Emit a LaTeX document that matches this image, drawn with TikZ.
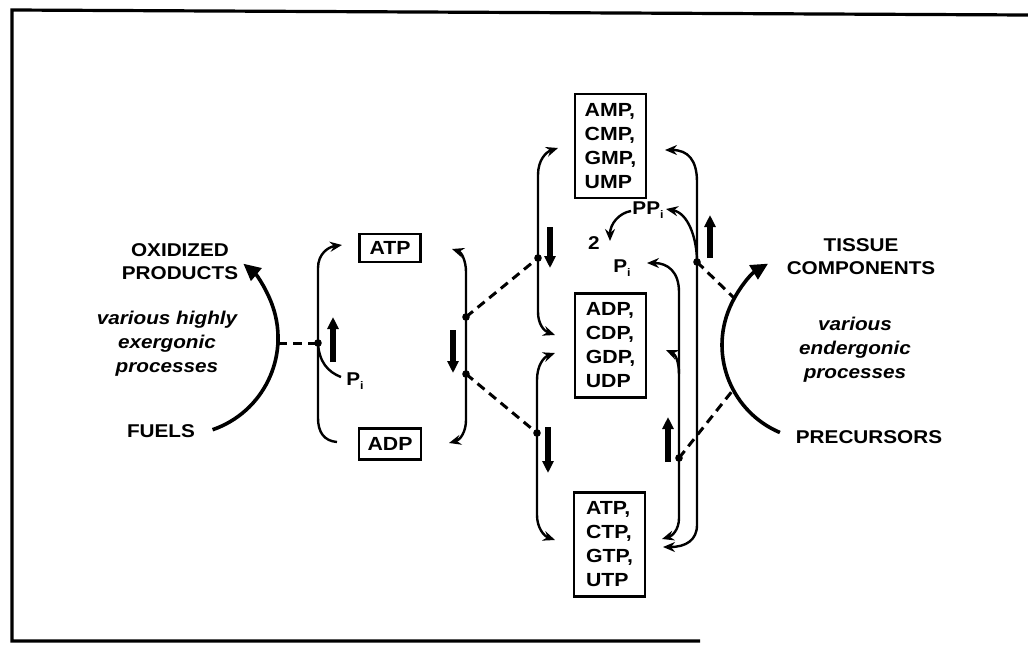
\documentclass[tikz,border=0pt]{standalone}
\usepackage{fontspec}
\setmainfont{Liberation Sans}[FakeStretch=1.12]
\usetikzlibrary{arrows.meta}
\newcommand{\sbi}{\raisebox{-4pt}{\fontsize{11}{11}\selectfont i}}
\begin{document}
\begin{tikzpicture}[x=1pt,y=-1pt,
  lbl/.style={font=\fontsize{18.5}{23}\selectfont\bfseries, align=center, inner sep=0pt},
  itl/.style={font=\fontsize{18.5}{24}\selectfont\bfseries\itshape, align=center, inner sep=0pt},
  box/.style={draw, line width=2.8pt, font=\fontsize{19}{24}\selectfont\bfseries, inner sep=2pt},
  bigbox/.style={box, align=left, minimum width=71pt, minimum height=104pt},
  link/.style={line width=2.4pt},
  dsh/.style={line width=3pt, dash pattern=on 9pt off 6pt},
  thin tip/.tip={Stealth[length=12pt,width=10pt,inset=4pt]},
  bigarc/.style={line width=3.6pt, -{Triangle[length=17pt,width=16pt]}},
  boldarr/.style={line width=6pt, -{Triangle[length=12pt,width=11pt]}}]
\useasboundingbox (0,0) rectangle (1028,646);
% frame
\draw[line width=3.2pt] (1028,15) -- (12,10) -- (12,641) -- (700,641);

% text nodes
\node[lbl] (oxi) at (180,262) {OXIDIZED\\PRODUCTS};
\node[itl] (exer) at (167,344) {various highly\\exergonic\\processes};
\node[lbl] (fuels) at (161,431) {FUELS};
\node[lbl] (tissue) at (861,257) {TISSUE\\COMPONENTS};
\node[itl] (ender) at (855,350) {various\\endergonic\\processes};
\node[lbl] (prec) at (869,437) {PRECURSORS};

% boxes
\node[box, minimum width=61pt, minimum height=28pt] (atp) at (390,248) {ATP};
\node[box, minimum width=62pt, minimum height=31pt] (adp) at (390,444) {ADP};
\node[bigbox] (nmp) at (610.5,146) {AMP,\\CMP,\\GMP,\\UMP};
\node[bigbox] (ndp) at (610.5,345.5) {ADP,\\CDP,\\GDP,\\UDP};
\node[bigbox] (ntp) at (609.5,544.5) {ATP,\\CTP,\\GTP,\\UTP};

% small labels
\node[lbl] (pi1) at (355,381) {P\sbi};
\node[lbl] (pi2) at (622,268) {P\sbi};
\node[lbl] (ppi) at (648,210) {PP\sbi};
\node[lbl] (two) at (594,243) {2};

% coordinates
\coordinate (j1) at (318,343);
\coordinate (j2) at (466,317);
\coordinate (j3) at (466,374);
\coordinate (j4) at (538,258);
\coordinate (j5) at (537,433);
\coordinate (j6) at (697,262);
\coordinate (j7) at (679,458);
\coordinate (la) at (278,343);
\coordinate (ra1) at (734,298);
\coordinate (ra2) at (733,390);
\coordinate (e1) at (337,442);
\coordinate (t1) at (342,245);
\coordinate (t2) at (452,249);
\coordinate (e2) at (449,443);
\coordinate (t3) at (558,148);
\coordinate (e3) at (555,335);
\coordinate (t4) at (555,353);
\coordinate (e4) at (555,540);
\coordinate (t5) at (665,150);
\coordinate (e5) at (663,547);
\coordinate (t6) at (666,209);
\coordinate (s6) at (631,211);
\coordinate (t6b) at (610,241);
\coordinate (t7) at (647,263);
\coordinate (e7) at (662,539);
\coordinate (t8) at (666,350);
\coordinate (pe) at (341,377);
\coordinate (fa) at (212.6,429.7);
\coordinate (pa) at (779.9,432.5);

% big arcs
\draw[bigarc] (fa) arc[start angle=71,end angle=-50,radius=97];
\draw[bigarc] (pa) arc[start angle=113,end angle=239,radius=95];

% ATP/ADP brackets
\draw[link,-{thin tip}] (e1) .. controls (324,441) and (318,432) .. (318,418) -- (j1) -- (318,268) .. controls (318,254) and (328,247) .. (t1);
\draw[link] (j1) .. controls (319,362) and (328,372) .. (pe);
\draw[link,{thin tip}-{thin tip}] (t2) .. controls (461,252) and (466,260) .. (466,272) -- (j2) -- (j3) -- (466,420) .. controls (466,432) and (460,440) .. (e2);

% middle left brackets
\draw[link,{thin tip}-{thin tip}] (t3) .. controls (546,152) and (538,160) .. (538,175) -- (j4) -- (538,312) .. controls (538,324) and (544,331) .. (e3);
\draw[link,{thin tip}-{thin tip}] (t4) .. controls (544,357) and (537,365) .. (537,380) -- (j5) -- (537,515) .. controls (537,528) and (544,536) .. (e4);

% right lines
\draw[link,{thin tip}-{thin tip}] (t5) .. controls (688,150) and (697,160) .. (697,182) -- (j6) -- (697,525) .. controls (697,540) and (686,547) .. (e5);
\draw[link,-{thin tip}] (j6) .. controls (697,238) and (688,213) .. (t6);
\draw[link,-{thin tip}] (s6) .. controls (619,213) and (610,224) .. (t6b);
\draw[link,{thin tip}-{thin tip}] (t7) .. controls (668,263) and (679,272) .. (679,292) -- (j7) -- (679,518) .. controls (679,530) and (672,536) .. (e7);
\draw[link,-{thin tip}] (679,374) .. controls (679,361) and (675,354) .. (t8);

% dashed couplings
\draw[dsh] (la) -- (j1);
\draw[dsh] (j2) -- (j4);
\draw[dsh] (j3) -- (j5);
\draw[dsh] (j6) -- (ra1);
\draw[dsh] (j7) -- (ra2);

% junction dots
\foreach \j in {j1,j2,j3,j4,j5,j6,j7} \fill (\j) circle[radius=3.8];

% bold direction arrows
\draw[boldarr] (333,362) -- (333,317);
\draw[boldarr] (453,330) -- (453,373);
\draw[boldarr] (550,227) -- (550,268);
\draw[boldarr] (548,427) -- (548,473);
\draw[boldarr] (710,258) -- (710,215);
\draw[boldarr] (668,462) -- (668,417);
\end{tikzpicture}
\end{document}
